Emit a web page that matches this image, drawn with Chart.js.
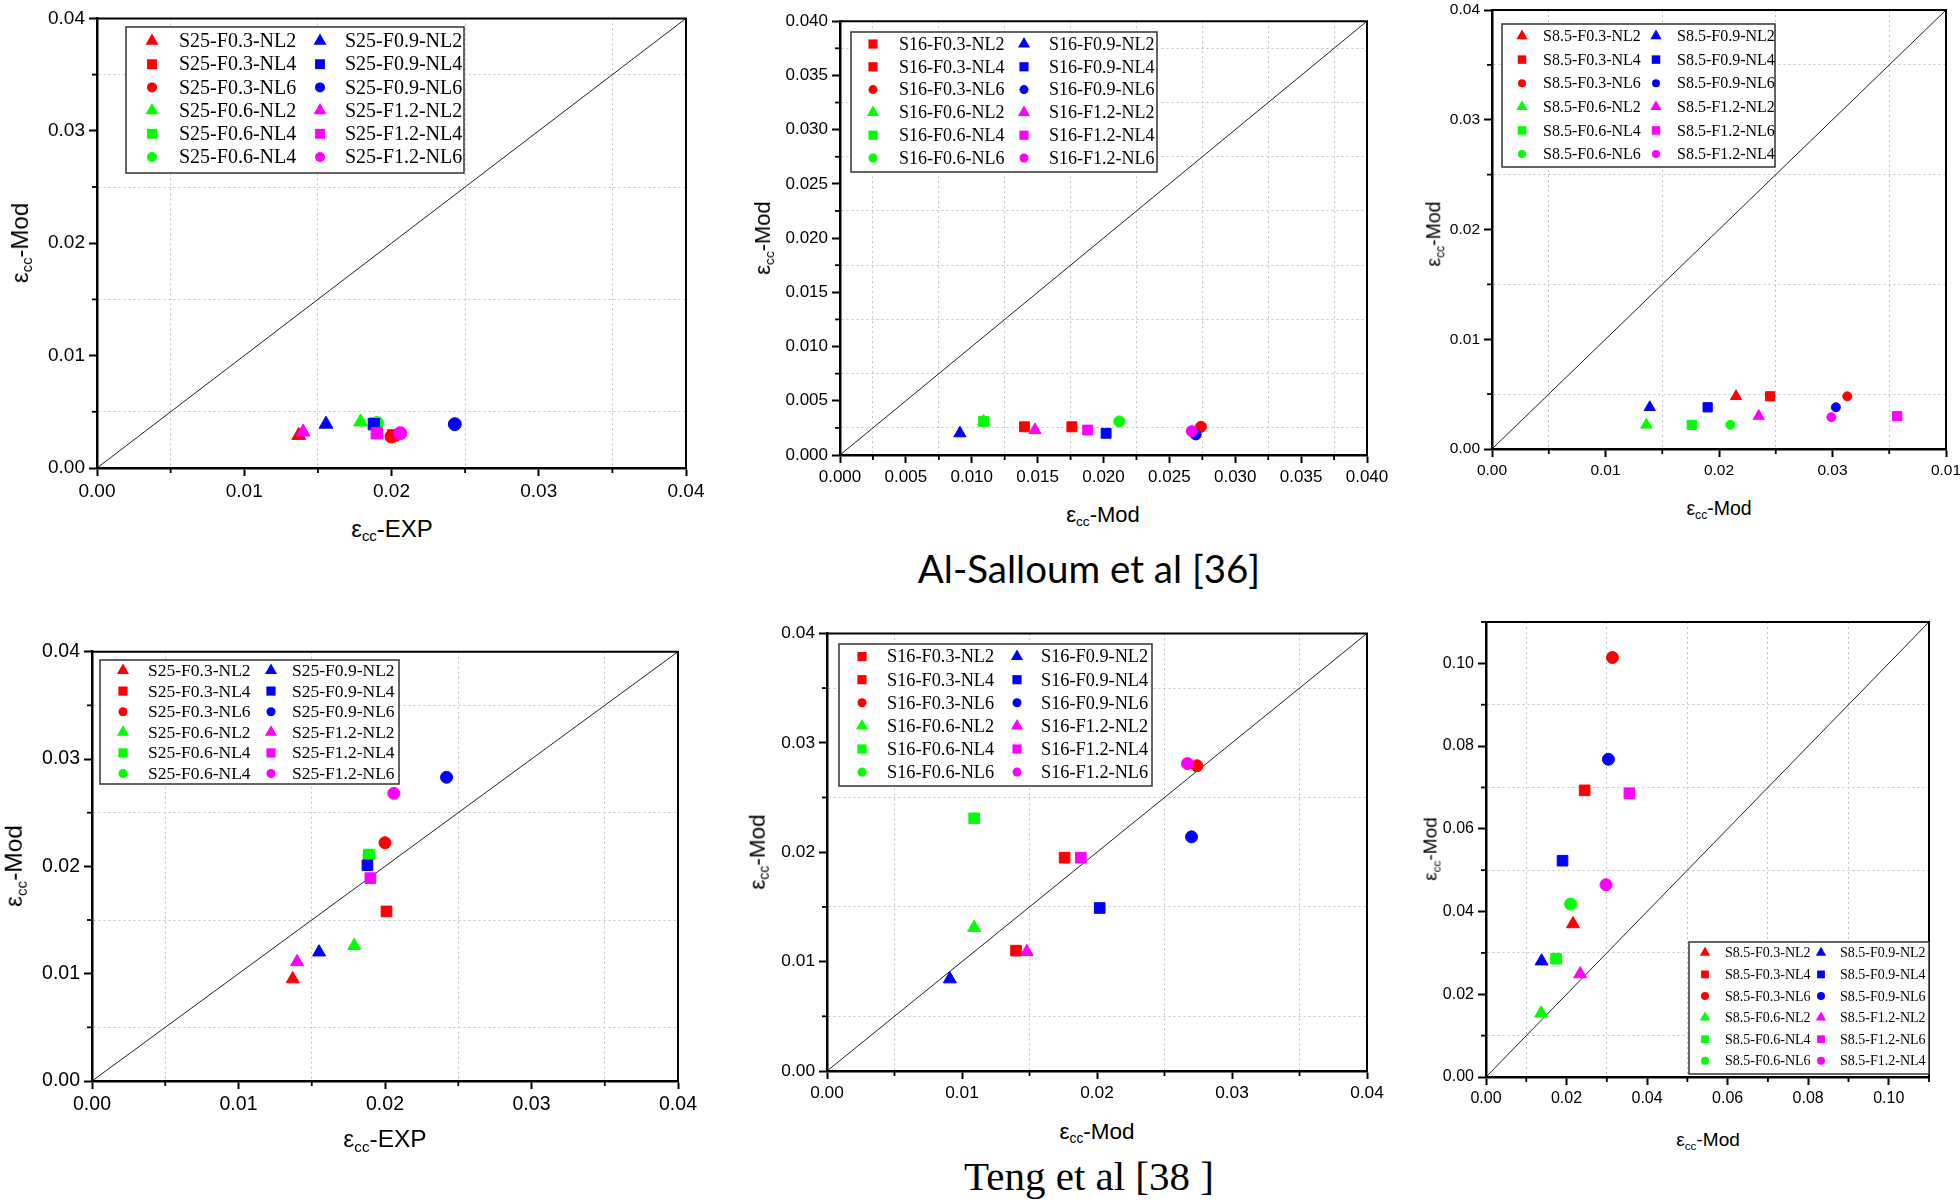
<!DOCTYPE html>
<html>
<head>
<meta charset="utf-8">
<script src="https://cdn.jsdelivr.net/npm/chart.js@4/dist/chart.umd.min.js"></script>
<style>
html,body{margin:0;padding:0;background:#fff;width:1960px;height:1204px;overflow:hidden;position:relative;font-family:"Liberation Sans",Arial,sans-serif}
canvas{position:absolute}
.t{position:absolute;white-space:nowrap;transform:translate(-50%,-50%);color:#000;line-height:1}
.ty{transform:translate(-50%,-50%) rotate(-90deg)}
.t sub{font-size:62%;position:relative;top:0.3em;vertical-align:baseline}
.cap{position:absolute;white-space:nowrap;transform:translate(-50%,-50%);color:#000;line-height:1}
</style>
</head>
<body>
<canvas id="c1"></canvas><canvas id="c2"></canvas><canvas id="c3"></canvas>
<canvas id="c4"></canvas><canvas id="c5"></canvas><canvas id="c6"></canvas>
<script>
// ---------- DATA ----------
const labelsS25 = ['S25-F0.3-NL2','S25-F0.3-NL4','S25-F0.3-NL6','S25-F0.6-NL2','S25-F0.6-NL4','S25-F0.6-NL4','S25-F0.9-NL2','S25-F0.9-NL4','S25-F0.9-NL6','S25-F1.2-NL2','S25-F1.2-NL4','S25-F1.2-NL6'];
const labelsS16 = ['S16-F0.3-NL2','S16-F0.3-NL4','S16-F0.3-NL6','S16-F0.6-NL2','S16-F0.6-NL4','S16-F0.6-NL6','S16-F0.9-NL2','S16-F0.9-NL4','S16-F0.9-NL6','S16-F1.2-NL2','S16-F1.2-NL4','S16-F1.2-NL6'];
const labelsS85 = ['S8.5-F0.3-NL2','S8.5-F0.3-NL4','S8.5-F0.3-NL6','S8.5-F0.6-NL2','S8.5-F0.6-NL4','S8.5-F0.6-NL6','S8.5-F0.9-NL2','S8.5-F0.9-NL4','S8.5-F0.9-NL6','S8.5-F1.2-NL2','S8.5-F1.2-NL6','S8.5-F1.2-NL4'];

// Panel 1 (top-left): eps_cc-EXP vs eps_cc-Mod, S25
const p1X = [0.0137,0.0201,0.0200,0.0179,0.0189,0.0190,0.01555,0.0188,0.0243,0.0140,0.0190,0.0206];
const p1Y = [0.0029,0.0029,0.0028,0.0041,0.0040,0.0040,0.0039,0.0039,0.0039,0.0032,0.0031,0.0031];
// Panel 2 (top-middle): Al-Salloum, S16
const p2X = [0.0140,0.0176,0.0274,0.0109,0.0109,0.0212,0.0091,0.0202,0.0270,0.0148,0.0188,0.0267];
const p2Y = [0.0026,0.0026,0.0026,0.0031,0.0031,0.0031,0.0020,0.0020,0.0019,0.0023,0.0023,0.0022];
// Panel 3 (top-right): S8.5
const p3X = [0.0215,0.0245,0.0313,0.0136,0.0176,0.0210,0.0139,0.0190,0.0303,0.0235,0.0357,0.0299];
const p3Y = [0.0048,0.0048,0.0048,0.0022,0.0022,0.0022,0.0038,0.0038,0.0038,0.0030,0.0030,0.0029];
// Panel 4 (bottom-left): S25
const p4X = [0.0137,0.0201,0.0200,0.0179,0.0189,0.0189,0.0155,0.0188,0.0242,0.0140,0.0190,0.0206];
const p4Y = [0.0095,0.0158,0.0222,0.0126,0.0211,0.0210,0.0120,0.0201,0.0283,0.0111,0.0189,0.0268];
// Panel 5 (bottom-middle): Teng, S16 (F0.6-NL6 not shown)
const p5X = [0.0140,0.0176,0.0274,0.0109,0.0109,null,0.0091,0.0202,0.0270,0.0148,0.0188,0.0267];
const p5Y = [0.0110,0.0195,0.0279,0.0131,0.0231,null,0.0084,0.0149,0.0214,0.0109,0.0195,0.0281];
// Panel 6 (bottom-right): S8.5
const p6X = [0.0216,0.0245,0.0314,0.0137,0.0174,0.0210,0.0138,0.0190,0.0304,0.0234,0.0356,0.0298];
const p6Y = [0.0370,0.0693,0.1014,0.0154,0.0286,0.0418,0.0280,0.0523,0.0768,0.0249,0.0686,0.0465];

// Tick labels (major ticks)
const ticks4 = ['0.00','0.01','0.02','0.03','0.04'];
const ticks40 = ['0.000','0.005','0.010','0.015','0.020','0.025','0.030','0.035','0.040'];
const ticksP3x = ['0.00','0.01','0.02','0.03','0.01'];
const ticks10 = ['0.00','0.02','0.04','0.06','0.08','0.10'];
// 1:1 reference line ends
const diag04 = [0, 0.04];
const diag11 = [0, 0.11];

// ---------- STYLES ----------
const COLORS = ['#ff0000','#ff0000','#ff0000','#00ff00','#00ff00','#00ff00','#0000ff','#0000ff','#0000ff','#ff00ff','#ff00ff','#ff00ff'];
const SHAPES_A = ['triangle','rect','circle','triangle','rect','circle','triangle','rect','circle','triangle','rect','circle'];
const SHAPES_B = ['rect','rect','circle','triangle','rect','circle','triangle','rect','circle','triangle','rect','circle'];

const panels = [
 {id:'c1', labels:labelsS25, xs:p1X, ys:p1Y, shapes:SHAPES_A, max:0.04, minor:0.005, xT:ticks4, yT:ticks4, diag:diag04,
  plot:[97,17,686,468], tf:19, mk:{triangle:8,rect:8,circle:6.5},
  lg:{box:[126,27,464,173], r0:41, rh:23.2, m1:152, t1:179, m2:320, t2:345, font:20, mk:{triangle:7.5,rect:7,circle:5}},
  xt:{txt:'EXP', x:392, y:529, s:24}, yt:{x:20, y:243, s:24}},
 {id:'c2', labels:labelsS16, xs:p2X, ys:p2Y, shapes:SHAPES_B, max:0.04, minor:0.0025, xT:ticks40, yT:ticks40, diag:diag04,
  plot:[840,21,1367,455], tf:17, mk:{triangle:7,rect:7,circle:5.5},
  lg:{box:[851,32,1157,172], r0:44, rh:22.8, m1:873, t1:899, m2:1024, t2:1049, font:18, mk:{triangle:7,rect:6.5,circle:4.5}},
  xt:{txt:'Mod', x:1103, y:515, s:22}, yt:{x:763, y:238, s:22}},
 {id:'c3', labels:labelsS85, xs:p3X, ys:p3Y, shapes:SHAPES_A, max:0.04, minor:0.005, xT:ticksP3x, yT:ticks4, diag:diag04,
  plot:[1492,10,1946,449], tf:15.5, mk:{triangle:6.5,rect:6.5,circle:4.5},
  lg:{box:[1502,24,1775,167], r0:36, rh:23.6, m1:1522, t1:1543, m2:1656, t2:1677, font:16, mk:{triangle:6.5,rect:6,circle:4}},
  xt:{txt:'Mod', x:1719, y:509, s:19.5}, yt:{x:1434, y:234, s:19.5}},
 {id:'c4', labels:labelsS25, xs:p4X, ys:p4Y, shapes:SHAPES_A, max:0.04, minor:0.005, xT:ticks4, yT:ticks4, diag:diag04,
  plot:[92,650,678,1081], tf:19.5, mk:{triangle:7.5,rect:7.5,circle:6},
  lg:{box:[100,660,399,784], r0:670.5, rh:20.6, m1:123, t1:148, m2:271, t2:292, font:17.5, mk:{triangle:7,rect:6.5,circle:4.5}},
  xt:{txt:'EXP', x:385, y:1139, s:24.5}, yt:{x:14, y:866, s:24.5}},
 {id:'c5', labels:labelsS16, xs:p5X, ys:p5Y, shapes:SHAPES_B, max:0.04, minor:0.005, xT:ticks4, yT:ticks4, diag:diag04,
  plot:[827,633,1367,1071], tf:17.3, mk:{triangle:7.5,rect:7.5,circle:6},
  lg:{box:[839,644,1152,786], r0:656.6, rh:23.1, m1:862, t1:887, m2:1017, t2:1041, font:18.3, mk:{triangle:7,rect:6.5,circle:4.5}},
  xt:{txt:'Mod', x:1097, y:1132, s:22.5}, yt:{x:758, y:852, s:22.5}},
 {id:'c6', labels:labelsS85, xs:p6X, ys:p6Y, shapes:SHAPES_A, max:0.11, minor:0.01, xT:ticks10, yT:ticks10, diag:diag11,
  plot:[1486,622,1929,1077], tf:16, mk:{triangle:7.5,rect:7.5,circle:6},
  lg:{box:[1689,942,1929,1074], r0:952.8, rh:21.6, m1:1705, t1:1725, m2:1821, t2:1840, font:14, mk:{triangle:6,rect:5.5,circle:4}},
  xt:{txt:'Mod', x:1708, y:1139, s:19}, yt:{x:1430, y:849, s:19}}
];

const YW = 70, XH = 45, PT = 14, PR = 40;

function mark(ctx, shape, x, y, r, color){
  ctx.fillStyle = color; ctx.beginPath();
  if (shape === 'triangle') { ctx.moveTo(x, y - r); ctx.lineTo(x + r*0.866, y + r*0.5); ctx.lineTo(x - r*0.866, y + r*0.5); ctx.closePath(); }
  else if (shape === 'rect') { const s = r*0.707; ctx.rect(x - s, y - s, 2*s, 2*s); }
  else { ctx.arc(x, y, r, 0, Math.PI*2); }
  ctx.fill();
}

const framePlugin = {
  id: 'frame',
  afterDraw(chart) {
    const {ctx, chartArea:a, scales:{x, y}} = chart;
    ctx.save();
    ctx.strokeStyle = '#000';
    ctx.lineWidth = 2;
    ctx.beginPath(); ctx.moveTo(a.left, a.top); ctx.lineTo(a.right, a.top); ctx.lineTo(a.right, a.bottom); ctx.stroke();
    ctx.lineWidth = 1.8;
    x.ticks.forEach((t, i) => { if (i % 2) { const px = x.getPixelForValue(t.value); ctx.beginPath(); ctx.moveTo(px, a.bottom); ctx.lineTo(px, a.bottom + 5); ctx.stroke(); } });
    y.ticks.forEach((t, i) => { if (i % 2) { const py = y.getPixelForValue(t.value); ctx.beginPath(); ctx.moveTo(a.left, py); ctx.lineTo(a.left - 5, py); ctx.stroke(); } });
    ctx.restore();
  }
};

const boxLegend = {
  id: 'boxLegend',
  afterDraw(chart, args, o) {
    if (!o || !o.lg) return;
    const {ctx} = chart; const lg = o.lg; const ox = o.ox, oy = o.oy;
    ctx.save();
    const b = lg.box;
    ctx.fillStyle = '#fff';
    ctx.fillRect(b[0]-ox, b[1]-oy, b[2]-b[0], b[3]-b[1]);
    ctx.strokeStyle = '#333'; ctx.lineWidth = 1.5;
    ctx.strokeRect(b[0]-ox, b[1]-oy, b[2]-b[0], b[3]-b[1]);
    ctx.font = lg.font + 'px "Liberation Serif", "Times New Roman", serif';
    ctx.textBaseline = 'middle'; ctx.textAlign = 'left';
    chart.data.datasets.forEach((ds, i) => {
      if (ds.isRef) return;
      const col = ds.seriesIndex < 6 ? 0 : 1;
      const row = ds.seriesIndex % 6;
      const yy = lg.r0 + row * lg.rh - oy;
      const mx = (col ? lg.m2 : lg.m1) - ox;
      const tx = (col ? lg.t2 : lg.t1) - ox;
      mark(ctx, ds.pointStyle, mx, yy, lg.mk[ds.pointStyle], ds.pointBackgroundColor);
      ctx.fillStyle = '#000';
      ctx.fillText(ds.label, tx, yy + 1);
    });
    ctx.restore();
  }
};

function axis(P, labels, pos) {
  const half = 2;
  return {
    type: 'linear', position: pos, min: 0, max: P.max,
    ticks: {
      stepSize: P.minor, autoSkip: false, maxRotation: 0, minRotation: 0, padding: 4, color: '#000',
      font: {family: '"Liberation Sans", Arial, sans-serif', size: P.tf},
      callback: (v, i) => (i % half === 0 ? (labels[i / half] ?? '') : '')
    },
    grid: {
      color: c => (c.index % half ? '#c4c4c4' : 'rgba(0,0,0,0)'),
      lineWidth: 1, tickLength: 8, tickWidth: 2,
      tickColor: c => (c.index % half ? 'rgba(0,0,0,0)' : '#000')
    },
    border: {display: true, color: '#000', width: 2.5, dash: [2, 3]},
    afterFit: s => { if (pos === 'left') s.width = YW; else s.height = XH; }
  };
}

panels.forEach(P => {
  const [l, t, r, b] = P.plot;
  const cv = document.getElementById(P.id);
  const W = (r - l) + YW + PR, H = (b - t) + PT + XH;
  const ox = l - YW, oy = t - PT;
  cv.width = W; cv.height = H;
  cv.style.left = ox + 'px'; cv.style.top = oy + 'px';
  cv.style.width = W + 'px'; cv.style.height = H + 'px';

  const datasets = P.labels.map((lab, i) => {
    const shape = P.shapes[i];
    const pts = (P.xs[i] == null) ? [] : [{x: P.xs[i], y: P.ys[i]}];
    return {
      label: lab, seriesIndex: i, data: pts, showLine: false,
      pointStyle: shape, pointRadius: P.mk[shape], pointHoverRadius: P.mk[shape],
      pointBackgroundColor: COLORS[i], pointBorderColor: COLORS[i], pointBorderWidth: 1,
      backgroundColor: COLORS[i], borderColor: COLORS[i], order: 50 - i
    };
  });
  datasets.push({
    label: '1:1', isRef: true, data: [{x: P.diag[0], y: P.diag[0]}, {x: P.diag[1], y: P.diag[1]}],
    showLine: true, borderColor: '#222', borderWidth: 1, pointRadius: 0, fill: false, order: 100
  });

  new Chart(cv, {
    type: 'scatter',
    data: {datasets},
    options: {
      responsive: false, animation: false, devicePixelRatio: 1, events: [],
      layout: {padding: {top: PT, right: PR, left: 0, bottom: 0}},
      scales: {x: axis(P, P.xT, 'bottom'), y: axis(P, P.yT, 'left')},
      plugins: {legend: {display: false}, tooltip: {enabled: false}, boxLegend: {lg: P.lg, ox, oy}}
    },
    plugins: [framePlugin, boxLegend]
  });

  const xt = document.createElement('div');
  xt.className = 't';
  xt.style.cssText = `left:${P.xt.x}px;top:${P.xt.y}px;font-size:${P.xt.s}px`;
  xt.innerHTML = `ε<sub>cc</sub>-${P.xt.txt}`;
  document.body.appendChild(xt);
  const yt = document.createElement('div');
  yt.className = 't ty';
  yt.style.cssText = `left:${P.yt.x}px;top:${P.yt.y}px;font-size:${P.yt.s}px`;
  yt.innerHTML = 'ε<sub>cc</sub>-Mod';
  document.body.appendChild(yt);
});

const c1 = document.createElement('div');
c1.className = 'cap';
c1.style.cssText = 'left:1089px;top:568px;font-size:38.5px;font-family:Lato,"Open Sans",sans-serif';
c1.textContent = 'Al-Salloum et al [36]';
document.body.appendChild(c1);
const c2 = document.createElement('div');
c2.className = 'cap';
c2.style.cssText = 'left:1089px;top:1176px;font-size:41px;font-family:"Liberation Serif","Times New Roman",serif';
c2.textContent = 'Teng et al [38 ]';
document.body.appendChild(c2);
</script>
</body>
</html>
